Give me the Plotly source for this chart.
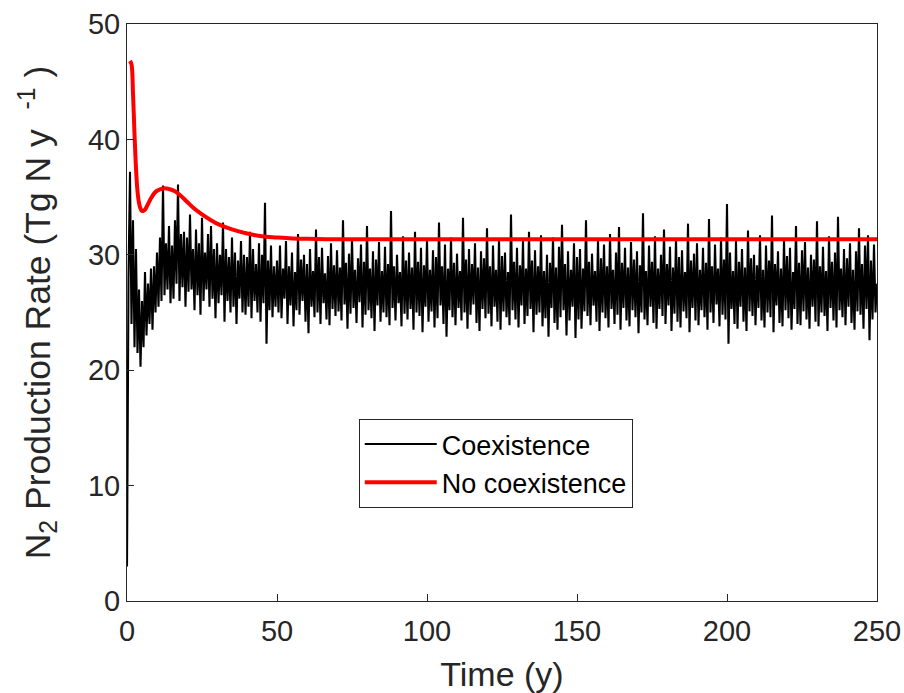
import numpy as np
import plotly.graph_objects as go

# ---------------- data ----------------
# Coexistence run: values read every 0.5 y from t = 0 to t = 250
coex_rows = [
    [3.0, 28.0, 37.2, 24.0, 33.0, 22.0, 30.5, 21.5, 27.0, 20.3, 26.0, 22.0, 28.5, 23.0, 27.5, 24.0, 28.8, 23.5, 29.0, 25.0],
    [30.2, 25.5, 31.5, 26.0, 36.0, 26.5, 31.0, 27.0, 32.5, 25.8, 30.8, 26.2, 33.0, 27.5, 36.1, 26.0, 31.8, 27.2, 32.0, 25.5],
    [31.5, 26.8, 33.5, 27.0, 30.5, 25.2, 32.2, 26.5, 31.0, 24.8, 33.2, 26.0, 30.2, 27.0, 31.8, 25.5, 32.5, 26.2, 30.5, 24.5],
    [31.0, 25.8, 30.0, 26.5, 32.8, 24.2, 30.5, 26.0, 29.8, 25.0, 31.5, 25.5, 30.2, 24.0, 29.5, 26.2, 31.2, 25.0, 30.0, 24.8],
    [29.8, 25.5, 32.0, 24.5, 30.5, 26.0, 29.2, 25.0, 31.0, 24.2, 30.0, 25.8, 34.5, 22.3, 29.5, 25.2, 30.8, 24.6, 29.0, 25.5],
    [29.5, 25.0, 30.8, 24.5, 28.8, 26.2, 31.2, 24.0, 29.0, 25.6, 30.2, 23.8, 28.5, 25.2, 31.8, 24.8, 29.6, 26.0, 30.0, 24.2],
    [29.2, 23.2, 30.5, 25.5, 28.6, 24.6, 32.2, 25.0, 29.8, 24.0, 30.6, 25.8, 28.4, 24.4, 29.9, 23.9, 31.0, 25.3, 29.1, 24.7],
    [30.4, 25.1, 28.9, 24.3, 33.0, 25.7, 29.3, 23.6, 30.1, 24.9, 31.4, 25.4, 28.7, 24.1, 29.7, 25.9, 30.9, 23.7, 29.4, 24.8],
    [32.5, 25.2, 28.8, 24.5, 30.3, 23.4, 29.6, 25.6, 31.1, 24.2, 28.6, 25.0, 30.7, 24.6, 29.2, 23.9, 33.8, 25.4, 29.0, 24.3],
    [30.0, 25.8, 28.5, 23.8, 31.6, 24.9, 29.5, 24.4, 30.2, 25.3, 28.9, 23.5, 32.0, 25.0, 29.4, 24.7, 30.6, 23.3, 29.1, 25.5],
    [31.3, 24.2, 28.7, 25.1, 30.4, 23.7, 29.8, 24.5, 32.8, 25.6, 29.0, 24.0, 30.9, 22.9, 28.8, 25.2, 31.5, 24.6, 29.3, 23.9],
    [30.1, 25.4, 28.6, 24.3, 33.2, 25.0, 29.6, 23.6, 30.5, 24.8, 29.2, 25.7, 31.0, 24.1, 28.9, 23.4, 30.3, 25.3, 29.7, 24.5],
    [32.3, 24.9, 29.0, 23.8, 30.8, 25.5, 28.7, 24.2, 31.4, 23.5, 29.9, 25.1, 30.2, 24.6, 28.5, 23.9, 33.5, 25.2, 29.4, 24.4],
    [30.6, 23.7, 29.1, 25.6, 31.2, 24.0, 28.8, 24.7, 32.0, 25.3, 29.5, 23.3, 30.4, 24.8, 29.0, 25.0, 31.7, 23.8, 28.6, 24.5],
    [30.0, 22.9, 29.3, 25.4, 31.5, 24.1, 28.9, 23.5, 30.7, 24.6, 32.6, 25.2, 29.2, 23.0, 30.3, 24.3, 28.7, 25.5, 31.0, 22.8],
    [29.8, 24.4, 30.5, 23.6, 28.8, 25.1, 33.0, 24.7, 29.4, 23.9, 30.1, 25.6, 28.6, 24.2, 31.3, 23.4, 29.7, 25.0, 30.9, 24.5],
    [29.0, 23.7, 31.8, 25.3, 28.7, 24.0, 30.2, 24.8, 32.4, 23.5, 29.3, 25.4, 30.6, 24.3, 28.9, 23.8, 31.1, 25.2, 29.6, 24.6],
    [30.3, 23.2, 29.1, 25.0, 33.6, 24.4, 28.6, 23.9, 30.8, 25.5, 29.4, 24.1, 31.6, 23.6, 28.8, 25.3, 30.0, 24.7, 32.2, 24.0],
    [29.2, 25.6, 30.7, 23.4, 28.9, 24.9, 31.4, 24.2, 29.8, 23.7, 30.4, 25.1, 28.5, 24.5, 32.7, 23.3, 29.5, 25.4, 30.1, 24.3],
    [31.0, 23.9, 28.7, 25.2, 30.6, 24.6, 29.3, 23.5, 33.1, 25.0, 29.0, 24.1, 30.9, 25.7, 28.8, 23.8, 31.5, 24.8, 29.6, 24.4],
    [34.4, 22.3, 30.2, 25.3, 28.6, 24.0, 31.2, 23.6, 29.4, 25.5, 30.5, 24.2, 28.9, 23.4, 32.1, 25.1, 29.7, 24.7, 30.0, 23.9],
    [29.1, 25.4, 31.7, 24.3, 28.7, 23.7, 30.8, 25.0, 29.5, 24.6, 33.4, 23.3, 29.2, 25.6, 30.3, 24.1, 28.8, 23.8, 31.3, 25.2],
    [29.9, 24.5, 30.6, 23.5, 28.5, 25.3, 32.5, 24.0, 29.3, 23.9, 30.4, 25.1, 31.1, 24.4, 28.9, 23.6, 30.0, 25.5, 29.6, 24.2],
    [32.9, 23.8, 29.0, 25.0, 30.7, 24.7, 28.6, 23.4, 31.6, 25.4, 29.4, 24.3, 30.2, 23.7, 33.3, 25.2, 28.8, 24.6, 30.5, 23.9],
    [29.7, 25.5, 31.0, 24.1, 28.7, 23.5, 30.3, 25.1, 32.3, 24.8, 29.2, 23.6, 30.8, 25.3, 31.7, 22.6, 29.5, 24.4, 30.9, 25.0],
    [27.5],
]
coex_values = [v for row in coex_rows for v in row]
coex_time = np.linspace(0, 250, len(coex_values))

# No-coexistence run (smooth)
nocoex_time = [1.0, 1.5, 2.0, 2.5, 3.0, 3.5, 4.0, 4.5, 5.0, 5.5, 6.0, 7.0, 8.0, 9.0, 10.0,
               12.0, 14.0, 16.0, 18.0, 20.0, 22.0, 25.0, 28.0, 30.0, 35.0, 40.0, 45.0,
               50.0, 55.0, 60.0, 70.0, 80.0, 100.0, 150.0, 200.0, 250.0]
nocoex_values = [46.8, 46.5, 44.0, 40.5, 37.5, 35.5, 34.5, 34.0, 33.8, 33.8, 33.9, 34.4, 34.9, 35.3, 35.55,
                 35.75, 35.7, 35.5, 35.1, 34.6, 34.1, 33.5, 33.0, 32.7, 32.2, 31.85, 31.6,
                 31.5, 31.42, 31.38, 31.35, 31.35, 31.35, 31.35, 31.35, 31.35]

x_ticks = [0, 50, 100, 150, 200, 250]
y_ticks = [0, 10, 20, 30, 40, 50]

# ---------------- figure ----------------
AX = "#262626"
FONT = "Liberation Sans, Arial, Helvetica, sans-serif"

fig = go.Figure()
fig.add_trace(go.Scatter(x=coex_time, y=coex_values, mode="lines", name="Coexistence",
                         line=dict(color="black", width=2.1)))
fig.add_trace(go.Scatter(x=nocoex_time, y=nocoex_values, mode="lines", name="No coexistence",
                         line=dict(color="#ff0000", width=4, shape="spline")))

fig.update_layout(
    width=904, height=693,
    margin=dict(l=127, r=27, t=24, b=92),
    paper_bgcolor="white", plot_bgcolor="white",
    font=dict(family=FONT, color=AX),
    showlegend=True,
    legend=dict(x=0.309, y=0.3154, xanchor="left", yanchor="top",
                bgcolor="white", bordercolor=AX, borderwidth=1,
                font=dict(size=27, color="black", family=FONT),
                itemwidth=72, tracegroupgap=0),
)
fig.update_xaxes(range=[0, 250], tickvals=x_ticks, showgrid=False, zeroline=False,
                 showline=True, mirror=True, linecolor=AX, linewidth=1,
                 ticks="inside", ticklen=7, tickcolor=AX, automargin=False,
                 tickfont=dict(size=29, color=AX), ticklabelstandoff=4,
                 title=dict(text="Time (y)", font=dict(size=34, color=AX), standoff=20))
fig.update_yaxes(range=[0, 50], tickvals=y_ticks, showgrid=False, zeroline=False,
                 showline=True, mirror=True, linecolor=AX, linewidth=1,
                 ticks="inside", ticklen=7, tickcolor=AX, automargin=False,
                 tickfont=dict(size=29, color=AX),
                 title=dict(text="N<sub>2</sub> Production Rate (Tg N y  <sup>-1</sup> )",
                            font=dict(size=35.5, color=AX), standoff=26))

fig.write_html("out.html")
